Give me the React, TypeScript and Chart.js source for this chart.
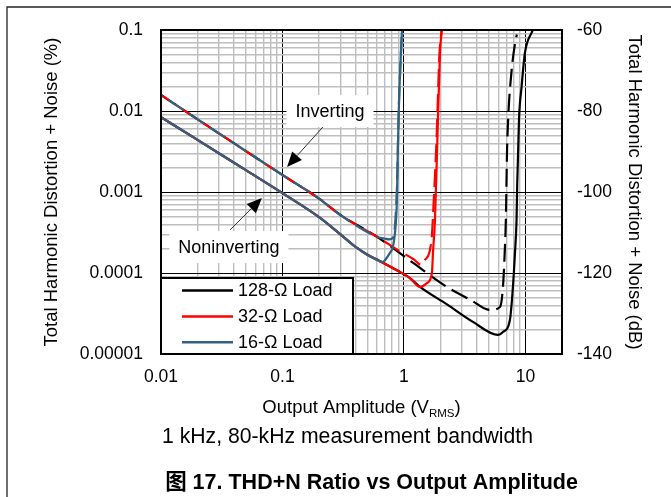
import React, { useEffect, useRef } from 'react';
import { Chart, registerables } from 'chart.js';

Chart.register(...registerables);

type Pt = [number, number];

// ---------- axis ticks ----------
const xDecades = [0.01, 0.1, 1, 10];
const xLimits = [0.01, 20];
const yDecades = [0.00001, 0.0001, 0.001, 0.01, 0.1];
const yLimits = [0.00001, 0.1];
const dbTicks = [-140, -120, -100, -80, -60];
const dbLimits = [-140, -60];
const minorMultipliers = [2, 3, 4, 5, 6, 7, 8, 9];

// ---------- series names ----------
const loadLabels = ['128-Ω Load', '32-Ω Load', '16-Ω Load'];

// ---------- Noninverting (solid lines): common low-amplitude part ----------
const nonInvShared: Pt[] = [
  [0.01, 0.0084], [0.02, 0.0044], [0.05, 0.00186], [0.1, 0.00097], [0.2, 0.00049],
  [0.3, 0.0003], [0.4, 0.00021], [0.5, 0.000168], [0.634, 0.00014],
];
const nonInv16Tail: Pt[] = [
  [0.67, 0.000137], [0.7, 0.000145], [0.767, 0.000177], [0.811, 0.00021], [0.843, 0.00031],
  [0.875, 0.0008], [0.89, 0.0033], [0.91, 0.0126], [0.963, 0.1],
];
const nonInv32Tail: Pt[] = [
  [0.875, 0.000108], [1.12, 0.0000867], [1.355, 0.0000672], [1.55, 0.0000753], [1.7, 0.0001],
  [1.733, 0.000177], [1.8, 0.00045], [1.87, 0.003], [1.98, 0.052], [2.05, 0.1],
];
const nonInv128Tail: Pt[] = [
  [0.875, 0.000108], [1.12, 0.0000867], [1.355, 0.0000672], [2.26, 0.000041], [3.7, 0.0000249],
  [5.94, 0.0000172], [6.53, 0.0000187], [7.45, 0.0000263], [7.89, 0.0000672], [8.2, 0.000177],
  [8.45, 0.00045], [8.55, 0.00117], [8.85, 0.0078], [9.3, 0.02], [9.9, 0.052], [11.5, 0.1],
];

// ---------- Inverting (dashed lines): common low-amplitude part ----------
const invShared: Pt[] = [
  [0.01, 0.0158], [0.02, 0.0079], [0.05, 0.0032], [0.1, 0.00162], [0.2, 0.00083],
  [0.3, 0.00052], [0.6, 0.00028],
];
const inv16Tail: Pt[] = [
  [0.7, 0.000265], [0.76, 0.00026], [0.82, 0.00028], [0.85, 0.00045], [0.875, 0.0011],
  [0.91, 0.0126], [0.963, 0.1],
];
const inv32Tail: Pt[] = [
  [0.927, 0.000185], [1.2, 0.000148], [1.39, 0.000126], [1.49, 0.000145], [1.62, 0.00018],
  [1.7, 0.0003], [1.76, 0.0008], [1.85, 0.004], [1.96, 0.05], [2.04, 0.1],
];
const inv128Tail: Pt[] = [
  [1.19, 0.000133], [2.26, 0.0000672], [3.5, 0.000047], [5.1, 0.000035], [6.17, 0.000038],
  [6.53, 0.000067], [6.75, 0.000177], [6.9, 0.00045], [7.05, 0.003], [7.2, 0.0078],
  [7.7, 0.032], [8.3, 0.075], [8.5, 0.088],
];

// ---------- annotations (data coordinates) ----------
const annotationTexts = ['Inverting', 'Noninverting'];
const annotationAt: Pt[] = [[0.246, 0.01], [0.0362, 0.000209]];
const arrowFrom: Pt[] = [[0.215, 0.00634], [0.037, 0.00034]];
const arrowTo: Pt[] = [[0.109, 0.00204], [0.0677, 0.000843]];

// ---------- styles ----------
const FONT = "Arial, 'Liberation Sans', 'Noto Sans CJK SC', sans-serif";
const COLORS = ['#000000', '#FF0000', '#2E6283'];
const GRID_MINOR = '#BEBEBE';
const DASH = [18, 7];

type Tick = { value: number; major: boolean };

function buildLogTicks(decades: number[], max: number): Tick[] {
  const out: Tick[] = [];
  decades.forEach((d) => {
    out.push({ value: d, major: true });
    minorMultipliers.forEach((k) => {
      const v = parseFloat((d * k).toPrecision(6));
      if (v < max - 1e-12) out.push({ value: v, major: false });
    });
  });
  if (!out.some((t) => Math.abs(t.value - max) < 1e-12)) out.push({ value: max, major: false });
  return out.filter((t) => t.value <= max + 1e-12).sort((a, b) => a.value - b.value);
}

function toXY(pts: Pt[]) {
  return pts.map(([x, y]) => ({ x, y }));
}

function makeDataset(label: string, pts: Pt[], color: string, dashed: boolean, dashOffset: number) {
  return {
    label,
    data: toXY(pts),
    borderColor: color,
    backgroundColor: color,
    borderWidth: 2.2,
    pointRadius: 0,
    fill: false,
    borderDash: dashed ? DASH : [],
    borderDashOffset: dashOffset,
    cubicInterpolationMode: 'monotone' as const,
    xAxisID: 'x',
    yAxisID: 'y',
  };
}

function drawArrow(ctx: CanvasRenderingContext2D, x1: number, y1: number, x2: number, y2: number) {
  const ang = Math.atan2(y2 - y1, x2 - x1);
  const headLen = 15;
  const headW = 6.5;
  const bx = x2 - headLen * Math.cos(ang);
  const by = y2 - headLen * Math.sin(ang);
  ctx.save();
  ctx.strokeStyle = '#333';
  ctx.fillStyle = '#000';
  ctx.lineWidth = 1;
  ctx.beginPath();
  ctx.moveTo(x1, y1);
  ctx.lineTo(bx, by);
  ctx.stroke();
  ctx.beginPath();
  ctx.moveTo(x2, y2);
  ctx.lineTo(bx + headW * Math.sin(ang), by - headW * Math.cos(ang));
  ctx.lineTo(bx - headW * Math.sin(ang), by + headW * Math.cos(ang));
  ctx.closePath();
  ctx.fill();
  ctx.restore();
}

const decorPlugin = {
  id: 'decor',
  beforeDraw(chart: any) {
    const { ctx, width, height } = chart;
    ctx.save();
    ctx.fillStyle = '#ffffff';
    ctx.fillRect(0, 0, width, height);
    // document frame (top + left rules)
    ctx.strokeStyle = '#222';
    ctx.lineWidth = 1.3;
    ctx.beginPath();
    ctx.moveTo(7, height);
    ctx.lineTo(7, 7);
    ctx.lineTo(width, 7);
    ctx.stroke();
    ctx.restore();
  },
  afterDatasetsDraw(chart: any) {
    const { ctx, chartArea: ca, scales } = chart;
    const xs = scales.x;
    const ys = scales.y;
    ctx.save();

    // annotations
    annotationTexts.forEach((txt, i) => {
      const cx = xs.getPixelForValue(annotationAt[i][0]);
      const cy = ys.getPixelForValue(annotationAt[i][1]);
      ctx.font = `18px ${FONT}`;
      const tw = ctx.measureText(txt).width;
      const bw = tw + 18;
      const bh = 32;
      ctx.fillStyle = '#fff';
      ctx.fillRect(cx - bw / 2, cy - bh / 2, bw, bh);
      ctx.fillStyle = '#000';
      ctx.textAlign = 'center';
      ctx.textBaseline = 'middle';
      ctx.fillText(txt, cx, cy + 1);
      drawArrow(
        ctx,
        xs.getPixelForValue(arrowFrom[i][0]),
        ys.getPixelForValue(arrowFrom[i][1]),
        xs.getPixelForValue(arrowTo[i][0]),
        ys.getPixelForValue(arrowTo[i][1])
      );
    });

    // legend box
    const lw = 192;
    const lh = 76;
    const lx = ca.left;
    const ly = ca.bottom - lh;
    ctx.fillStyle = '#fff';
    ctx.fillRect(lx, ly, lw, lh);
    ctx.strokeStyle = '#000';
    ctx.lineWidth = 2;
    ctx.strokeRect(lx, ly, lw, lh);
    loadLabels.forEach((lab, i) => {
      const yy = ly + 12.5 + i * 25.9;
      ctx.strokeStyle = COLORS[i];
      ctx.lineWidth = 2.5;
      ctx.beginPath();
      ctx.moveTo(lx + 21, yy);
      ctx.lineTo(lx + 72, yy);
      ctx.stroke();
      ctx.fillStyle = '#000';
      ctx.font = `18px ${FONT}`;
      ctx.textAlign = 'left';
      ctx.textBaseline = 'middle';
      ctx.fillText(lab, lx + 77, yy + 1);
    });

    // plot border
    ctx.strokeStyle = '#000';
    ctx.lineWidth = 2;
    ctx.strokeRect(ca.left, ca.top, ca.right - ca.left, ca.bottom - ca.top);
    ctx.restore();
  },
  afterDraw(chart: any) {
    const { ctx, chartArea: ca } = chart;
    ctx.save();
    ctx.fillStyle = '#000';
    ctx.textBaseline = 'alphabetic';
    ctx.textAlign = 'left';

    // x-axis title with subscript
    const main = 'Output Amplitude (V';
    const sub = 'RMS';
    const close = ')';
    ctx.font = `18.5px ${FONT}`;
    const w1 = ctx.measureText(main).width;
    const w3 = ctx.measureText(close).width;
    ctx.font = `11.5px ${FONT}`;
    const w2 = ctx.measureText(sub).width;
    const cx = (ca.left + ca.right) / 2;
    let x = cx - (w1 + w2 + w3) / 2;
    const base = ca.bottom + 59;
    ctx.font = `18.5px ${FONT}`;
    ctx.fillText(main, x, base);
    x += w1;
    ctx.font = `11.5px ${FONT}`;
    ctx.fillText(sub, x, base + 3.5);
    x += w2;
    ctx.font = `18.5px ${FONT}`;
    ctx.fillText(close, x, base);

    // subtitle
    ctx.textAlign = 'center';
    ctx.font = `21.2px ${FONT}`;
    ctx.fillText('1 kHz, 80-kHz measurement bandwidth', cx - 14, ca.bottom + 89);

    // caption
    ctx.font = `bold 21.5px ${FONT}`;
    ctx.fillText('图 17. THD+N Ratio vs Output Amplitude', cx + 10, ca.bottom + 135);
    ctx.restore();
  },
};

export default function App() {
  const ref = useRef<HTMLCanvasElement>(null);

  useEffect(() => {
    const canvas = ref.current;
    if (!canvas) return;
    const xTicks = buildLogTicks(xDecades, xLimits[1]);
    const yTicks = buildLogTicks(yDecades, yLimits[1]);

    const datasets = [
      makeDataset(loadLabels[2] + ' Noninverting', [...nonInvShared, ...nonInv16Tail], COLORS[2], false, 0),
      makeDataset(loadLabels[2] + ' Inverting', [...invShared, ...inv16Tail], COLORS[2], true, 16),
      makeDataset(loadLabels[1] + ' Noninverting', [...nonInvShared, ...nonInv32Tail], COLORS[1], false, 0),
      makeDataset(loadLabels[1] + ' Inverting', [...invShared, ...inv32Tail], COLORS[1], true, 8),
      makeDataset(loadLabels[0] + ' Noninverting', [...nonInvShared, ...nonInv128Tail], COLORS[0], false, 0),
      makeDataset(loadLabels[0] + ' Inverting', [...invShared, ...inv128Tail], COLORS[0], true, 0),
    ];

    const tickFont = { family: FONT, size: 17.5 };
    const gridColor = (c: any) => (c.tick && c.tick.major ? '#000000' : GRID_MINOR);
    const gridWidth = (c: any) => (c.tick && c.tick.major ? 1 : 1.4);

    const chart = new Chart(canvas, {
      type: 'line',
      data: { datasets: datasets as any },
      plugins: [decorPlugin as any],
      options: {
        responsive: false,
        animation: false,
        devicePixelRatio: window.devicePixelRatio || 1,
        layout: { padding: { top: 30, left: 0, right: 0, bottom: 0 } },
        plugins: {
          legend: { display: false },
          tooltip: { enabled: false },
          title: { display: false },
        },
        scales: {
          x: {
            type: 'logarithmic',
            position: 'bottom',
            min: xLimits[0],
            max: xLimits[1],
            afterBuildTicks: (s: any) => {
              s.ticks = xTicks.map((t) => ({ ...t }));
            },
            afterFit: (s: any) => {
              s.height = 143;
            },
            ticks: {
              autoSkip: false,
              maxRotation: 0,
              minRotation: 0,
              padding: 13,
              color: '#000',
              font: tickFont,
              callback: (v: any, i: number, ticks: any[]) =>
                ticks[i] && ticks[i].major ? String(ticks[i].value) : '',
            },
            grid: { color: gridColor, lineWidth: gridWidth, drawTicks: false },
            border: { display: false },
          },
          y: {
            type: 'logarithmic',
            position: 'left',
            min: yLimits[0],
            max: yLimits[1],
            afterBuildTicks: (s: any) => {
              s.ticks = yTicks.map((t) => ({ ...t }));
            },
            afterFit: (s: any) => {
              s.width = 161;
            },
            ticks: {
              autoSkip: false,
              padding: 18,
              color: '#000',
              font: tickFont,
              callback: (v: any, i: number, ticks: any[]) =>
                ticks[i] && ticks[i].major ? String(ticks[i].value) : '',
            },
            grid: { color: gridColor, lineWidth: gridWidth, drawTicks: false },
            border: { display: false },
            title: {
              display: true,
              text: 'Total Harmonic Distortion + Noise (%)',
              color: '#000',
              font: { family: FONT, size: 18.5 },
              padding: { top: 41, bottom: 0 },
            },
          },
          y2: {
            type: 'linear',
            position: 'right',
            min: dbLimits[0],
            max: dbLimits[1],
            afterBuildTicks: (s: any) => {
              s.ticks = dbTicks.map((v) => ({ value: v }));
            },
            afterFit: (s: any) => {
              s.width = 109;
            },
            ticks: {
              autoSkip: false,
              padding: 15,
              color: '#000',
              font: tickFont,
              callback: (v: any) => String(v),
            },
            grid: { display: false, drawTicks: false },
            border: { display: false },
            title: {
              display: true,
              text: 'Total Harmonic Distortion + Noise (dB)',
              color: '#000',
              font: { family: FONT, size: 18.5 },
              padding: { top: 26, bottom: 0 },
            },
          },
        },
      } as any,
    });
    return () => chart.destroy();
  }, []);

  return (
    <div style={{ position: 'fixed', left: 0, top: 0, width: 671, height: 497, background: '#fff' }}>
      <canvas ref={ref} width={671} height={497} style={{ display: 'block', width: 671, height: 497 }} />
    </div>
  );
}
